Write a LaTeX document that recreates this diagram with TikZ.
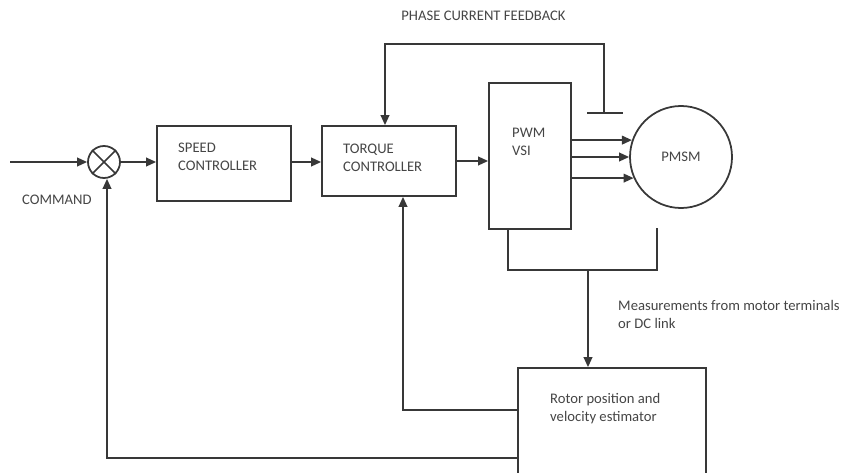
\documentclass[tikz,border=0pt]{standalone}
\usepackage{fontspec}
\setmainfont{Carlito}
\usetikzlibrary{arrows.meta,positioning}
\definecolor{linegray}{HTML}{383838}
\definecolor{textgray}{HTML}{454545}
\tikzset{
  blk/.style={draw=linegray, line width=1.5pt, inner sep=0pt},
  lbl/.style={text=textgray, inner sep=0pt, font=\fontsize{12.5}{15.3}\selectfont, align=left},
  arr/.style={draw=linegray, line width=1.5pt, -{Triangle[length=0.3cm,width=0.26cm]}},
  wire/.style={draw=linegray, line width=1.5pt}
}

\begin{document}
\begin{tikzpicture}[x=0.03cm, y=-0.03cm]
    \useasboundingbox (0,0) rectangle (842,472);
    \node[blk, circle, minimum size=0.96cm] (sum) at (104,162) {};
    \draw[wire] (sum.north west) -- (sum.south east);
    \draw[wire] (sum.north east) -- (sum.south west);
    \node[blk, minimum width=4.02cm, minimum height=2.25cm] (speed)  at (224,163.5) {};
    \node[blk, minimum width=4.02cm, minimum height=2.1cm]  (torque) at (389,161) {};
    \node[blk, minimum width=2.46cm, minimum height=4.38cm] (pwm)    at (530,156) {};
    \node[blk, circle, minimum size=3.06cm]                 (pmsm)   at (681,157) {};
    \node[blk, minimum width=5.64cm, minimum height=3.3cm]  (est)    at (612,423) {};

    \node[lbl, anchor=base west] (speedtxt)  at (178,170.5) {SPEED\\CONTROLLER};
    \node[lbl, anchor=base west] (torquetxt) at (343,171)   {TORQUE\\CONTROLLER};
    \node[lbl, anchor=base west] (pwmtxt)    at (512,155)   {PWM\\VSI};
    \node[lbl, anchor=center]    (pmsmtxt)   at (pmsm)      {PMSM};
    \node[lbl, anchor=base west] (esttxt)    at (550,421)   {Rotor position and\\velocity estimator};
    \node[lbl, anchor=base west] (cmdtxt)    at (22,204)    {COMMAND};
    \node[lbl, anchor=base]      (phasetxt)  at (483.5,20)  {PHASE CURRENT FEEDBACK};
    \node[lbl, anchor=base west] (meastxt)   at (618,328)   {Measurements from motor terminals\\or DC link};

    \coordinate (cmdin) at (10,162);
    \coordinate (sensor) at (604,113);
    \coordinate (fbtop) at (604,44);
    \coordinate (measL) at (508,270);
    \coordinate (measR) at (657,270);
    \coordinate (measM) at (588,270);

    \draw[arr] (cmdin) -- (sum.west);
    \draw[arr] (sum.east) -- (sum.east -| speed.west);
    \draw[arr] (speed.east |- sum.east) -- (torque.west |- sum.east);
    \draw[arr] (torque.east) -- (torque.east -| pwm.west);
    \draw[arr] (pwm.east |- pmsm.161) -- (pmsm.161);
    \draw[arr] (pwm.east |- pmsm.180) -- (pmsm.180);
    \draw[arr] (pwm.east |- pmsm.204) -- (pmsm.204);

    \draw[wire] (sensor) ++(-17,0) -- ++(36,0);
    \draw[arr] (sensor) -- (fbtop) -| ([xshift=-0.12cm]torque.north);

    \draw[wire] (pwm.south -| measL) -- (measL) -- (measR) -- ++(0,-42);
    \draw[arr] (measM) -- (measM |- est.north);

    \draw[arr] ([yshift=0.39cm]est.west) -| ([xshift=0.42cm]torque.south);
    \draw[arr] ([yshift=-1.05cm]est.west) -| ([xshift=0.09cm]sum.south);
\end{tikzpicture}
\end{document}
